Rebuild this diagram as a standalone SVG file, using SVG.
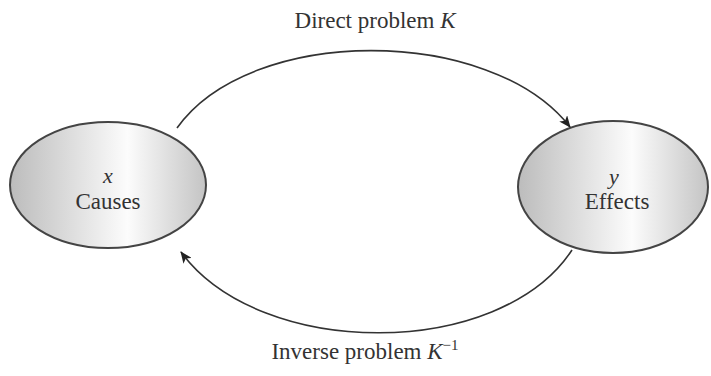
<svg xmlns="http://www.w3.org/2000/svg" width="711" height="376" viewBox="0 0 711 376">
<defs>
<linearGradient id="shade" x1="0%" y1="0%" x2="100%" y2="0%">
<stop offset="0%" style="stop-color:#bcbcbc"/>
<stop offset="60%" style="stop-color:#fcfcfc"/>
<stop offset="100%" style="stop-color:#c4c4c4"/>
</linearGradient>
<marker id="ah" viewBox="0 0 12 10" refX="11" refY="5" markerWidth="12" markerHeight="10" markerUnits="userSpaceOnUse" orient="auto">
<path d="M0,0 L12,5 L0,10 L3,5 Z" fill="#222"/>
</marker>
<style>
.node ellipse{stroke:#444;stroke-width:2}
text{font-family:"Liberation Serif","Times New Roman",serif;fill:#333;text-anchor:middle}
.lbl{font-size:23px}
.var{font-size:22px;font-style:italic}
.edge{fill:none;stroke:#333;stroke-width:1.6;marker-end:url(#ah)}
</style>
</defs>
<g id="causes" class="node">
<ellipse cx="108" cy="185" rx="98" ry="63" fill="url(#shade)"/>
<text class="var" x="108" y="183">x</text>
<text class="lbl" x="108" y="209">Causes</text>
</g>
<g id="effects" class="node">
<ellipse cx="613" cy="187" rx="95" ry="66" fill="url(#shade)"/>
<text class="var" x="614" y="184">y</text>
<text class="lbl" x="617" y="209">Effects</text>
</g>
<g id="connectors">
<path class="edge" d="M177,128 C250,25 490,25 570,127"/>
<path class="edge" d="M572,250 C500,360 260,360 181,252"/>
<text class="lbl" x="375" y="28">Direct problem <tspan font-style="italic">K</tspan></text>
<text class="lbl" x="365" y="359">Inverse problem  <tspan font-style="italic">K</tspan><tspan font-size="15" dy="-9">−1</tspan></text>
</g>
</svg>
